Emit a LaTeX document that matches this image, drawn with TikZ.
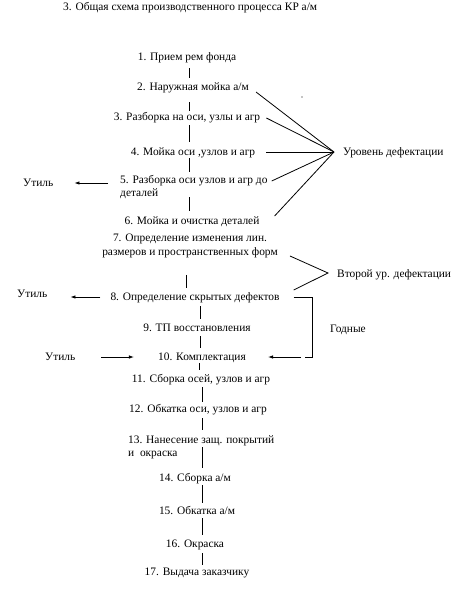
\documentclass[tikz,border=0pt]{standalone}
\usepackage{fontspec}
\setmainfont{Liberation Serif}
\usetikzlibrary{arrows.meta}

\begin{document}
\begin{tikzpicture}[
  x=1pt, y=-1pt,
  font=\fontsize{11.4}{13.6}\selectfont,
  etap/.style={inner sep=0pt, text height=8pt, text depth=2pt, anchor=base},
  etapml/.style={inner sep=0pt, align=left, anchor=north west},
  lbl/.style={inner sep=0pt, text height=8pt, text depth=2pt, anchor=base west},
  link/.style={line width=0.8pt},
  arr/.style={-{Latex[length=5pt, width=3.5pt]}, line width=0.8pt}
]
  \useasboundingbox (0,0) rectangle (469,591);

  % заголовок
  \node[lbl] (title) at (63,11) {3. Общая схема производственного процесса КР а/м};

  % этапы
  \node[etap] (s1) at (187,61) {1. Прием рем фонда};
  \node[etap] (s2) at (193,91) {2. Наружная мойка а/м};
  \node[etap] (s3) at (187,121) {3. Разборка на оси, узлы и агр};
  \node[etap] (s4) at (193,155) {4. Мойка оси ,узлов и агр};
  \node[etapml] (s5) at (120,175) {5. Разборка оси узлов и агр до\\деталей};
  \node[etap] (s6) at (192,224) {6. Мойка и очистка деталей};
  \node[etapml, align=center, anchor=north] (s7) at (190,234) {7. Определение изменения лин.\\размеров и пространственных форм};
  \node[etap] (s8) at (195,300) {8. Определение скрытых дефектов};
  \node[etap] (s9) at (197,331) {9. ТП восстановления};
  \node[etap] (s10) at (202,360) {10. Комплектация};
  \node[etap] (s11) at (201,382) {11. Сборка осей, узлов и агр};
  \node[etap] (s12) at (198,412) {12. Обкатка оси, узлов и агр};
  \node[etapml] (s13) at (128,435) {13. Нанесение защ. покрытий\\и\ \ окраска};
  \node[etap] (s14) at (195,481) {14. Сборка а/м};
  \node[etap] (s15) at (197,514) {15. Обкатка а/м};
  \node[etap] (s16) at (195,547) {16. Окраска};
  \node[etap] (s17) at (197,575) {17. Выдача заказчику};

  % подписи
  \node[lbl] (u1) at (23,186) {Утиль};
  \node[lbl] (u2) at (17,297) {Утиль};
  \node[lbl] (u3) at (45,360) {Утиль};
  \node[lbl] (def1) at (343,155) {Уровень дефектации};
  \node[lbl] (def2) at (337,277) {Второй ур. дефектации};
  \node[lbl] (godn) at (330,332) {Годные};

  \coordinate (f1) at (334,152);
  \coordinate (f2) at (328,273);
  \coordinate (brk) at (312,357);

  % вертикальные связи
  \foreach \x/\a/\b/\p/\q in {189/s1/s2/5/5, 189/s2/s3/9/2, 189/s3/s4/2/5,
      189/s4/s5/1/3, 189/s5/s6/-2/5, 186/s7/s8/17/4, 200/s8/s9/4/4,
      200/s9/s10/3/4, 199/s10/s11/1/4, 202/s11/s12/3/2, 202/s12/s13/4/5,
      202/s13/s14/-12/5, 202/s14/s15/2/3, 202/s15/s16/2/4, 202/s16/s17/4/2}
    \draw[link, shorten <=\p pt, shorten >=\q pt] (\x,0 |- \a.south) -- (\x,0 |- \b.north);

  % уровень дефектации
  \foreach \n/\dx/\dy in {s2.east/7/-4, s3.east/6/0, s4.east/11/0,
      s5.north east/4/-6, s6.east/15/5}
    \draw[link] ([xshift=\dx pt, yshift=\dy pt]\n) -- (f1);
  \fill (302,97) circle (0.6);

  % второй уровень
  \draw[link] ([xshift=12pt, yshift=2pt]s7.south east) -- (f2) -- ([xshift=14pt, yshift=7pt]s8.east);

  % годные
  \draw[link] ([xshift=14pt]s8.east) -| (brk) -- ++(-7,0);
  \draw[arr, shorten <=11pt, shorten >=22pt] (brk) -- (brk -| s10.east);

  % утиль
  \draw[arr, shorten <=12pt, shorten >=21pt] (s5.west |- u1.east) -- (u1.east);
  \draw[arr, shorten <=10pt, shorten >=23pt] (s8.west) -- (s8.west -| u2.east);
  \draw[arr, shorten <=26pt, shorten >=24pt] (u3.east) -- (u3.east -| s10.west);
\end{tikzpicture}
\end{document}
